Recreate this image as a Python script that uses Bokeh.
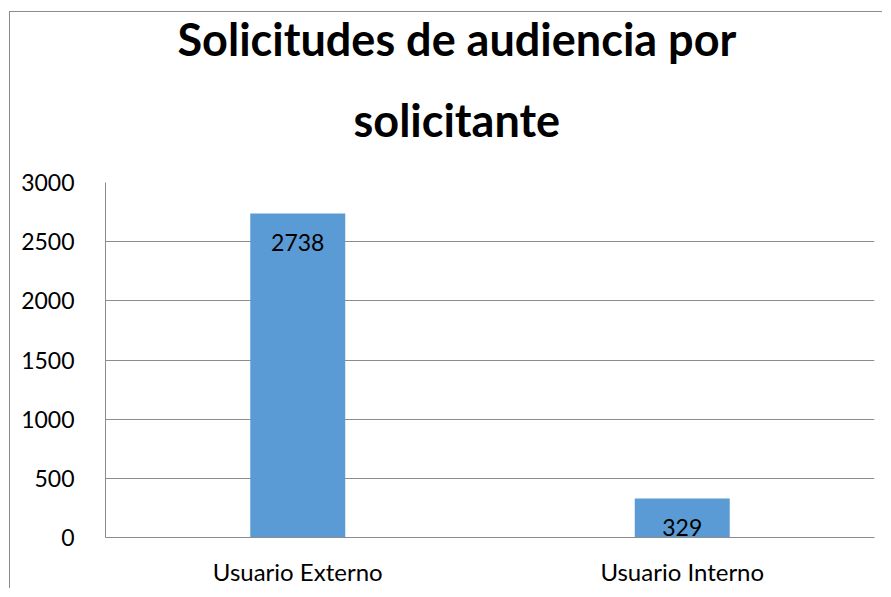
from bokeh.plotting import figure
from bokeh.models import Range1d, Title, FixedTicker
from bokeh.core.properties import value
from bokeh.embed import file_html
from bokeh.resources import INLINE

categories = ["Usuario Externo", "Usuario Interno"]
values = [2738, 329]
labels = ["2738", "329"]
y_ticks = [0, 500, 1000, 1500, 2000, 2500, 3000]
title_line1 = "Solicitudes de audiencia por"
title_line2 = "solicitante"

FONT = "Lato"
BAR = "#5B9BD5"
GRID = "#8c8c8c"

p = figure(
    x_range=categories, y_range=Range1d(0, 3000),
    width=873, height=577, output_backend="svg", toolbar_location=None,
    min_border_left=95, min_border_right=9, min_border_top=170, min_border_bottom=52,
    styles={"margin-left": "9px", "margin-top": "11px",
            "border-left": "1px solid #8c8c8c", "border-top": "1px solid #8c8c8c"},
)
p.x_range.range_padding = 0
p.outline_line_color = None

p.vbar(x=categories, top=values, width=0.247, fill_color=BAR, line_color=None)
p.text(x=categories, y=values, text=labels, y_offset=29,
       text_align="center", text_baseline="middle",
       text_font=value(FONT), text_font_size="23px", text_color="#000000")

p.add_layout(Title(text=title_line2, align="left", offset=248,
                   text_font=FONT, text_font_size="45px", text_font_style="bold",
                   text_color="#000000", standoff=72), "above")
p.add_layout(Title(text=title_line1, align="left", offset=72,
                   text_font=FONT, text_font_size="45px", text_font_style="bold",
                   text_color="#000000", standoff=-23), "above")

p.yaxis.ticker = FixedTicker(ticks=y_ticks)
p.yaxis.major_tick_line_color = None
p.yaxis.minor_tick_line_color = None
p.yaxis.axis_line_color = GRID
p.yaxis.major_label_standoff = 25
p.yaxis.major_label_text_font = FONT
p.yaxis.major_label_text_font_size = "23px"
p.yaxis.major_label_text_color = "#000000"

p.xaxis.major_tick_line_color = None
p.xaxis.axis_line_color = GRID
p.xaxis.major_label_standoff = 13
p.xaxis.major_label_text_font = FONT
p.xaxis.major_label_text_font_size = "24px"
p.xaxis.major_label_text_color = "#000000"

p.xgrid.grid_line_color = None
p.ygrid.grid_line_color = GRID
p.ygrid.grid_line_width = 1

open("out.html", "w").write(file_html(p, INLINE))
